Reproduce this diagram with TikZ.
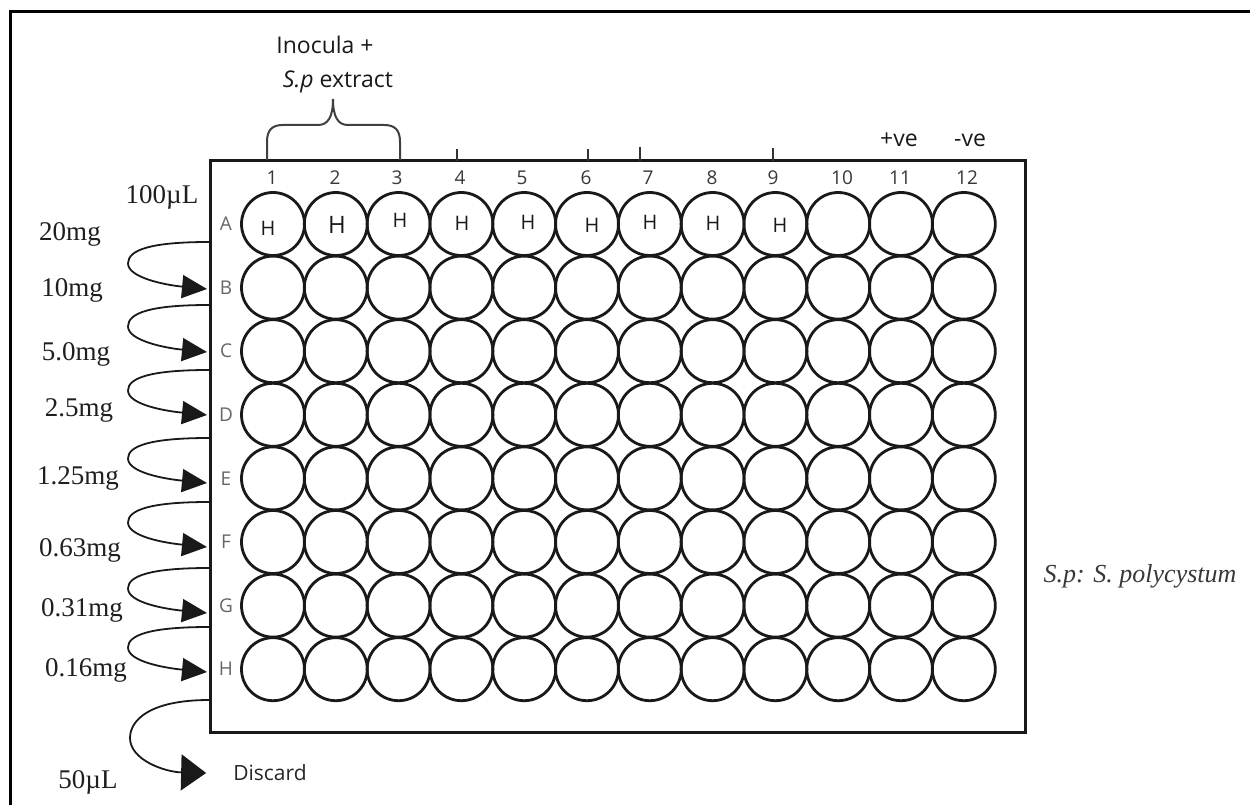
\documentclass[tikz,border=0pt]{standalone}
\usepackage{fontspec}
\setmainfont{Liberation Serif}
\newfontfamily\osans{Open Sans}
\usetikzlibrary{arrows.meta}
\begin{document}
\begin{tikzpicture}[x=1pt,y=-1pt,
  well/.style={circle,draw=black!90,line width=2.8pt,minimum size=63pt,inner sep=0pt},
  hmark/.style={font=\osans\fontsize{20}{20}\selectfont,text=black!90,inner sep=0pt},
  colnum/.style={font=\osans\fontsize{19}{19}\selectfont,text=black!78,inner sep=0pt},
  rowlet/.style={font=\osans\fontsize{19}{19}\selectfont,text=black!60,inner sep=0pt},
  sanslab/.style={font=\osans\fontsize{23}{23}\selectfont,text=black!90,inner sep=0pt},
  conc/.style={font=\fontsize{27}{27}\selectfont,text=black!88,inner sep=0pt},
  loopline/.style={line width=1.8pt,draw=black!90,-{Triangle[length=25pt,width=23pt]}},
  tick/.style={line width=1.8pt,draw=black!80},
]
\useasboundingbox (0,0) rectangle (1250,805);
% outer frame
\draw[line width=3pt] (10,805) -- (10,12) -- (1250,12);
% plate
\node[draw=black!90,line width=3pt,minimum width=815pt,minimum height=571pt,inner sep=0pt] (plate) at (617.5,446.5) {};
% ticks on top edge
\foreach \tx/\ty in {457/149,588/149,640/147,773/148}
  \draw[tick] (\tx,\ty) -- (\tx,161);
% wells
\foreach \r [count=\ri from 0] in {A,B,C,D,E,F,G,H}{
  \node[rowlet] (row\r) at (226,224+63.6*\ri) {\r};
  \foreach \c in {1,...,12}{
    \node[well] (w\r\c) at (273+62.8*\c-62.8,224+63.6*\ri) {};
  }
}
% column numbers
\foreach \c/\cx in {1/272,2/335,3/397,4/460,5/522,6/586,7/648,8/712,9/773,10/842,11/900,12/967}
  \node[colnum] (col\c) at (\cx,178) {\c};
% H marks in row A
\node[hmark] (h1) at (268,228) {H};
\node[hmark,font=\osans\fontsize{24}{24}\selectfont] (h2) at (337,225) {H};
\node[hmark] (h3) at (400,220) {H};
\node[hmark] (h4) at (462,223) {H};
\node[hmark] (h5) at (528,222) {H};
\node[hmark] (h6) at (592,225) {H};
\node[hmark] (h7) at (650,222) {H};
\node[hmark] (h8) at (713,223) {H};
\node[hmark] (h9) at (780,225) {H};
% top labels
\node[sanslab] (inoc) at (325,45) {Inocula +};
\node[sanslab] (spext) at (338,82) {\textit{S.p} extract};
\node[sanslab] (pos) at (899,140) {+ve};
\node[sanslab] (neg) at (970,140) {-ve};
% brace
\draw[line width=2pt,draw=black!75] (267,160) -- (267,142) .. controls (267,130) and (272,125) .. (283,125) -- (318,125)
  .. controls (328,125) and (333,117) .. (333,99)
  .. controls (333,117) and (338,125) .. (348,125) -- (384,125)
  .. controls (395,125) and (400,130) .. (400,142) -- (400,160);
% concentration labels
\node[conc] (l100) at (162,197) {100µL};
\node[conc] (c1) at (70,234) {20mg};
\node[conc] (c2) at (72,290) {10mg};
\node[conc] (c3) at (76,354) {5.0mg};
\node[conc] (c4) at (79,410) {2.5mg};
\node[conc] (c5) at (78,478) {1.25mg};
\node[conc] (c6) at (80,550) {0.63mg};
\node[conc] (c7) at (82,610) {0.31mg};
\node[conc] (c8) at (86,670) {0.16mg};
\node[conc] (l50) at (88,782) {50µL};
% loops
\foreach \n/\ys/\ye in {1/242/289,2/305/352,3/370/415,4/438/483,5/502/547,6/568/613,7/627/672}{
  \coordinate (s\n) at (209,\ys);
  \coordinate (e\n) at (207,\ye);
  \pgfmathsetmacro{\mid}{(\ys+\ye)/2-2}
  \pgfmathsetmacro{\mida}{\mid+14}
  \pgfmathsetmacro{\ysa}{\ys+8}
  \pgfmathsetmacro{\yea}{\ye-4}
  \draw[loopline] (s\n) .. controls (150,\ys) and (128,\ysa) .. (128,\mid) .. controls (128,\mida) and (165,\yea) .. (e\n);
}
\node[font=\osans\fontsize{21}{21}\selectfont,text=black!85,inner sep=0pt] (disc) at (270,773) {Discard};
\coordinate (s8) at (209,700);
\draw[line width=1.8pt,draw=black!90,-{Triangle[length=25pt,width=36pt]}] (s8) .. controls (150,700) and (130,720) .. (130,738) .. controls (130,760) and (165,772) .. ([xshift=-27pt]disc.west);
% footnote
\node[font=\itshape\fontsize{26}{26}\selectfont,text=black!78,inner sep=0pt] (note) at (1140,576) {S.p: S. polycystum};
\end{tikzpicture}
\end{document}
